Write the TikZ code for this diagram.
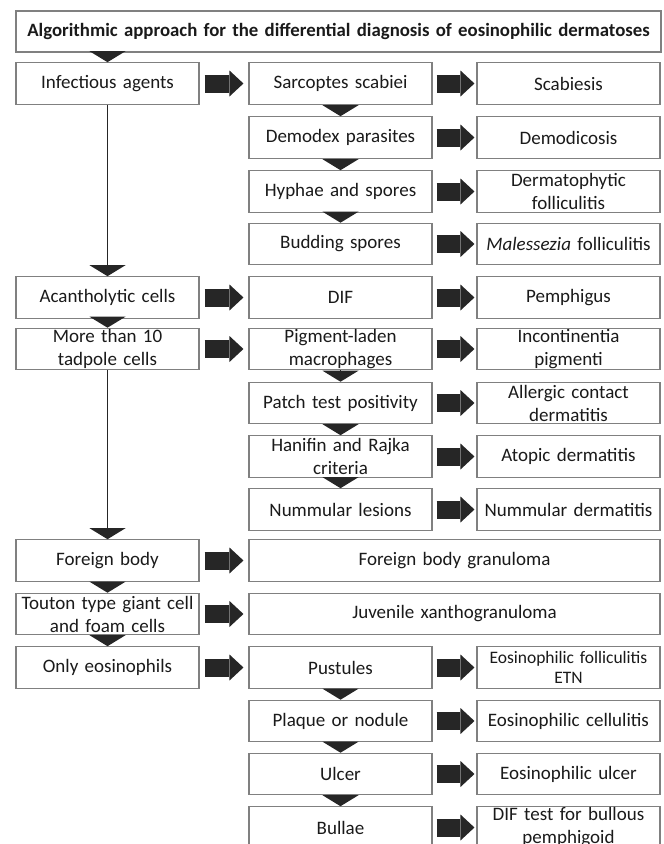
\documentclass[tikz,border=0pt]{standalone}
\usepackage{fontspec}
\setmainfont{Carlito}
\usetikzlibrary{arrows.meta}
\definecolor{boxline}{HTML}{808080}
\definecolor{arrowfill}{HTML}{262626}
\definecolor{txt}{HTML}{1A1A1A}
\begin{document}
\begin{tikzpicture}[x=1pt,y=-1pt,
  box/.style={draw=boxline, line width=1.1pt, fill=white, minimum width=183pt, minimum height=41.5pt,
    inner xsep=2pt, inner ysep=0pt, text width=177pt, align=center,
    font=\fontsize{19}{23}\selectfont, text=txt, anchor=center},
  widebox/.style={box, minimum width=411pt, text width=400pt},
  titlebox/.style={box, minimum width=645pt, minimum height=41pt, text width=641pt, font=\fontsize{18.8}{21}\selectfont\bfseries},
  fat/.style={arrowfill, line width=18pt, -{Triangle[length=14pt,width=26pt,line width=0pt]}},
  down/.style={arrowfill, line width=0.4pt, -{Triangle[length=11pt,width=36pt,line width=0pt]}},
  vline/.style={arrowfill, line width=1.2pt, -{Triangle[length=11pt,width=36pt,line width=0pt]}}
]
\useasboundingbox (0,0) rectangle (664,844);

% title
\node[titlebox] (title) at (338.5,31.5) {Algorithmic approach for the differential diagnosis of eosinophilic dermatoses};

% left column
\node[box] (l0)  at (107.5,83.5)  {Infectious agents};
\node[box] (l4)  at (107.5,297.5) {Acantholytic cells};
\node[box] (l5)  at (107.5,349)   {More than 10\\tadpole cells};
\node[box] (l9)  at (107.5,560.5) {Foreign body};
\node[box] (l10) at (107.5,614)   {Touton type giant cell\\and foam cells};
\node[box] (l11) at (107.5,667.5) {Only eosinophils};

% middle column
\node[box] (m0)  at (340.5,83.5)  {Sarcoptes scabiei};
\node[box] (m1)  at (340.5,137.5) {Demodex parasites};
\node[box] (m2)  at (340.5,191.5) {Hyphae and spores};
\node[box] (m3)  at (340.5,244)   {Budding spores};
\node[box] (m4)  at (340.5,297.5) {DIF};
\node[box] (m5)  at (340.5,349)   {Pigment-laden\\macrophages};
\node[box] (m6)  at (340.5,403)   {Patch test positivity};
\node[box] (m7)  at (340.5,456.5) {Hanifin and Rajka\\criteria};
\node[box] (m8)  at (340.5,509.5) {Nummular lesions};
\node[widebox] (w9)  at (454.5,560.5) {Foreign body granuloma};
\node[widebox] (w10) at (454.5,614)   {Juvenile xanthogranuloma};
\node[box] (m11) at (340.5,667.5) {Pustules};
\node[box] (m12) at (340.5,721)   {Plaque or nodule};
\node[box] (m13) at (340.5,774)   {Ulcer};
\node[box] (m14) at (340.5,827.5) {Bullae};

% right column
\node[box] (r0)  at (568.5,83.5)  {Scabiesis};
\node[box] (r1)  at (568.5,137.5) {Demodicosis};
\node[box] (r2)  at (568.5,191.5) {Dermatophytic\\folliculitis};
\node[box] (r3)  at (568.5,244)   {\textit{Malessezia} folliculitis};
\node[box] (r4)  at (568.5,297.5) {Pemphigus};
\node[box] (r5)  at (568.5,349)   {Incontinentia\\pigmenti};
\node[box] (r6)  at (568.5,403)   {Allergic contact\\dermatitis};
\node[box] (r7)  at (568.5,456.5) {Atopic dermatitis};
\node[box] (r8)  at (568.5,509.5) {Nummular dermatitis};
\node[box, font=\fontsize{17.5}{20}\selectfont] (r11) at (568.5,667.5) {Eosinophilic folliculitis\\ETN};
\node[box] (r12) at (568.5,721)   {Eosinophilic cellulitis};
\node[box] (r13) at (568.5,774)   {Eosinophilic ulcer};
\node[box] (r14) at (568.5,827.5) {DIF test for bullous\\pemphigoid};

% downward triangles, left column
\draw[down] (title.south -| l0.south) -- (l0.north);
\draw[down] (l4.south) -- (l5.north);
\draw[down] (l9.south) -- (l10.north);
\draw[down] (l10.south) -- (l11.north);

% long vertical connectors
\draw[vline] (l0.south) -- (l4.north);
\draw[vline] (l5.south) -- (l9.north);

% downward triangles, middle column
\draw[down] (m0.south) -- (m1.north);
\draw[down] (m1.south) -- (m2.north);
\draw[down] (m2.south) -- (m3.north);
\draw[down] (m5.south) -- (m6.north);
\draw[down] (m6.south) -- (m7.north);
\draw[down] (m7.south) -- (m8.north);
\draw[down] (m11.south) -- (m12.north);
\draw[down] (m12.south) -- (m13.north);
\draw[down] (m13.south) -- (m14.north);

% fat arrows left -> middle
\foreach \a/\b in {l0/m0, l4/m4, l5/m5, l9/w9, l10/w10, l11/m11}{
  \draw[fat] ([xshift=5pt]\a.east) -- ([xshift=-5pt]\a.east -| \b.west);
}
% fat arrows middle -> right
\foreach \a/\b in {m0/r0, m1/r1, m2/r2, m3/r3, m4/r4, m5/r5, m6/r6, m7/r7, m8/r8, m11/r11, m12/r12, m13/r13, m14/r14}{
  \draw[fat] ([xshift=4pt]\a.east) -- ([xshift=-2pt]\b.west);
}
\end{tikzpicture}
\end{document}
